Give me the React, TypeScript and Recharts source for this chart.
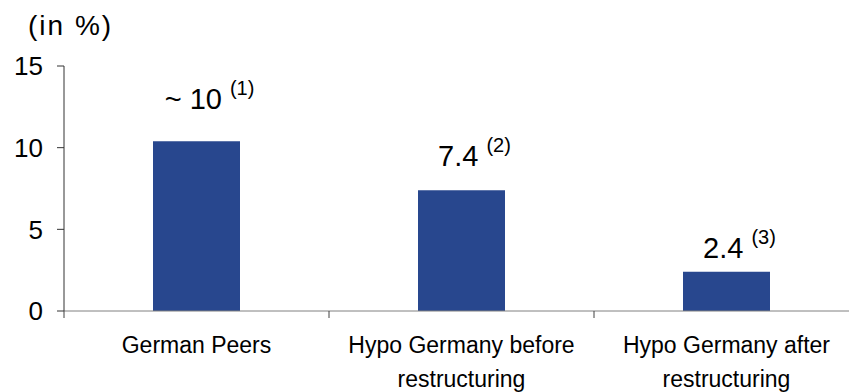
import React from 'react';
import { BarChart, Bar, XAxis, YAxis, LabelList } from 'recharts';

const categories = ['German Peers', 'Hypo Germany before\nrestructuring', 'Hypo Germany after\nrestructuring'];
const values = [10.4, 7.4, 2.4];
const valueLabels = ['~ 10', '7.4', '2.4'];
const footnotes = ['(1)', '(2)', '(3)'];
const yTicks = [0, 5, 10, 15];

const data = categories.map((name, i) => ({ name, value: values[i] }));

const FONT = '"Liberation Sans", Arial, Helvetica, sans-serif';
// how far above each bar top the value label sits (as in the source slide)
const labelLift = [32, 24, 14];

const CategoryTick = (props: any) => {
  const { x, y, payload } = props;
  const half = payload?.offset ?? 0;
  const lines = String(payload.value).split('\n');
  return (
    <g>
      <line x1={x - half} x2={x - half} y1={y} y2={y + 7} stroke="#404040" />
      <text x={x} y={y + 42} textAnchor="middle" fontSize={23} fill="#000" fontFamily={FONT}>
        {lines.map((l, i) => (
          <tspan key={i} x={x} dy={i === 0 ? 0 : 34}>
            {l}
          </tspan>
        ))}
      </text>
    </g>
  );
};

const ValueLabel = (props: any) => {
  const { x, y, width, index } = props;
  const cx = Number(x) + Number(width) / 2;
  const base = Number(y) - labelLift[index];
  return (
    <text x={cx + 13} y={base} textAnchor="middle" fontFamily={FONT} fill="#000">
      <tspan fontSize={29}>{valueLabels[index]}</tspan>
      <tspan fontSize={20} dx={8} dy={-14}>
        {footnotes[index]}
      </tspan>
    </text>
  );
};

const App: React.FC = () => {
  return (
    <div style={{ position: 'absolute', left: 0, top: 0, width: 849, height: 392, overflow: 'hidden', background: '#fff' }}>
      <div
        style={{
          position: 'absolute',
          left: 28,
          top: 12,
          fontFamily: FONT,
          fontSize: 28,
          letterSpacing: 2,
          lineHeight: '27px',
          color: '#000',
          whiteSpace: 'nowrap',
        }}
      >
        (in %)
      </div>
      <BarChart width={880} height={392} data={data} margin={{ top: 66, right: 21, bottom: 0, left: 0 }}>
        <XAxis
          dataKey="name"
          height={81}
          interval={0}
          axisLine={{ stroke: '#808080' }}
          tickLine={false}
          tickSize={0}
          tickMargin={0}
          tick={<CategoryTick />}
        />
        <YAxis
          width={64}
          domain={[0, 15]}
          ticks={yTicks}
          interval={0}
          axisLine={{ stroke: '#333' }}
          tickLine={{ stroke: '#333' }}
          tickSize={7}
          tickMargin={14}
          tick={{ fontSize: 26, fill: '#000', fontFamily: FONT }}
        />
        <Bar dataKey="value" fill="#28478E" barSize={87} isAnimationActive={false}>
          <LabelList dataKey="value" content={<ValueLabel />} />
        </Bar>
      </BarChart>
    </div>
  );
};

export default App;
